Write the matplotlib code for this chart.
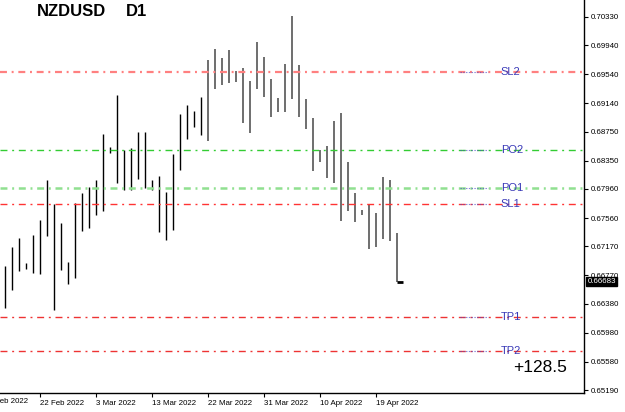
import matplotlib
matplotlib.use("Agg")
import matplotlib.pyplot as plt
import matplotlib.transforms as mtransforms

plt.rcParams['font.family'] = ['Liberation Sans', 'DejaVu Sans']
plt.rcParams['lines.scale_dashes'] = False

# daily bars NZDUSD (high / low), oldest first
highs = [0.6690, 0.6716, 0.6729, 0.6694, 0.6733, 0.6753, 0.6808, 0.6775, 0.6749, 0.6695,
         0.6777, 0.6791, 0.6799, 0.6808, 0.6872, 0.6854, 0.6926, 0.6850, 0.6853, 0.6875,
         0.6875, 0.6808, 0.6814, 0.6792, 0.6844, 0.6899, 0.6912, 0.6904, 0.6923, 0.6974,
         0.6989, 0.6977, 0.6988, 0.6959, 0.6963, 0.6945, 0.6999, 0.6978, 0.6948, 0.6921,
         0.6968, 0.7034, 0.6967, 0.6920, 0.6894, 0.6850, 0.6855, 0.6890, 0.6901, 0.6833,
         0.6791, 0.6767, 0.6775, 0.6763, 0.6813, 0.6808, 0.6735]
lows = [0.6632, 0.6657, 0.6683, 0.6686, 0.6680, 0.6679, 0.6731, 0.6629, 0.6684, 0.6665,
        0.6673, 0.6738, 0.6742, 0.6760, 0.6766, 0.6846, 0.6804, 0.6795, 0.6795, 0.6810,
        0.6797, 0.6795, 0.6737, 0.6726, 0.6740, 0.6822, 0.6865, 0.6881, 0.6870, 0.6862,
        0.6934, 0.6939, 0.6942, 0.6943, 0.6887, 0.6873, 0.6934, 0.6923, 0.6895, 0.6902,
        0.6902, 0.6920, 0.6895, 0.6879, 0.6821, 0.6833, 0.6811, 0.6804, 0.6752, 0.6766,
        0.6751, 0.6760, 0.6713, 0.6716, 0.6727, 0.6724, 0.6668]
last_close = 0.66683

level_names = ['SL2', 'PO2', 'PO1', 'SL1', 'TP1', 'TP2']
level_prices = [0.69572, 0.68497, 0.67974, 0.67753, 0.66196, 0.65728]
level_colors = ['#ff8080', '#33cc33', '#90e090', '#ff3333', '#ee3333', '#ee3333']
level_widths = [1.6, 1.0, 1.8, 1.0, 1.0, 1.0]

price_ticks = [0.70330, 0.69940, 0.69540, 0.69140, 0.68750, 0.68350, 0.67960,
               0.67560, 0.67170, 0.66770, 0.66380, 0.65980, 0.65580, 0.65190]
date_labels = ['13 Feb 2022', '22 Feb 2022', '3 Mar 2022', '13 Mar 2022',
               '22 Mar 2022', '31 Mar 2022', '10 Apr 2022', '19 Apr 2022']
date_pos = [-3, 5, 13, 21, 29, 37, 45, 53]

fig = plt.figure(figsize=(6.25, 4.12), dpi=100)
ax = fig.add_axes([0, 19 / 412, 584 / 625, 393 / 412])

n = len(highs)
for i in range(n):
    c = 'black' if i < 29 else '#6e6e6e'
    lw = 1.0 if i < 29 else 1.4
    ax.vlines(i, lows[i], highs[i], color=c, linewidth=lw)
ax.hlines(last_close, n - 1, n - 0.05, color='black', linewidth=2)

for name, p, c, w in zip(level_names, level_prices, level_colors, level_widths):
    ax.axhline(p, color=c, linewidth=w, dashes=(5, 3.4, 1.4, 3.4))
    ax.plot([65, 69], [p, p], color='#5050c8', linewidth=0.8, dashes=(1, 1), alpha=0.7)
    ax.text(70.9, p, name, color='#3a3ab8', fontsize=8, va='center', ha='left')

ax.set_xlim(-0.67, 82.77)
ax.set_ylim(0.65149, 0.70564)

for s in ['top', 'left']:
    ax.spines[s].set_visible(False)
ax.spines['right'].set_linewidth(1.0)
ax.spines['bottom'].set_linewidth(1.0)

ax.yaxis.tick_right()
ax.set_yticks(price_ticks)
ax.set_yticklabels(['%.5f' % v for v in price_ticks])
ax.tick_params(axis='y', length=3, width=0.8, pad=2, labelsize=5.7, direction='out')

vis = [(p, l) for p, l in zip(date_pos, date_labels) if p >= 0]
ax.set_xticks([p for p, _ in vis])
ax.set_xticklabels([l for _, l in vis], ha='left')
ax.tick_params(axis='x', length=3, width=0.8, pad=2, labelsize=5.7, direction='out')
trans = mtransforms.blended_transform_factory(ax.transData, ax.transAxes)
for p, l in zip(date_pos, date_labels):
    if p < 0:
        ax.text(p, -0.013, l, transform=trans, fontsize=5.7, ha='left', va='top', clip_on=False)

# current price box
ax.text(1.006, last_close, '%.5f' % last_close, transform=mtransforms.blended_transform_factory(ax.transAxes, ax.transData),
        fontsize=5.7, color='white', va='center', ha='left',
        bbox=dict(boxstyle='square,pad=0.15', facecolor='black', edgecolor='black'))

fig.text(37 / 625, 1 - 12 / 412, 'NZDUSD', fontsize=12, fontweight='bold', va='center', ha='left')
fig.text(126 / 625, 1 - 12 / 412, 'D1', fontsize=12, fontweight='bold', va='center', ha='left')
fig.text(513 / 625, 1 - 367 / 412, '+128.5', fontsize=12.5, va='center', ha='left')

fig.savefig('out.png', dpi=100)
